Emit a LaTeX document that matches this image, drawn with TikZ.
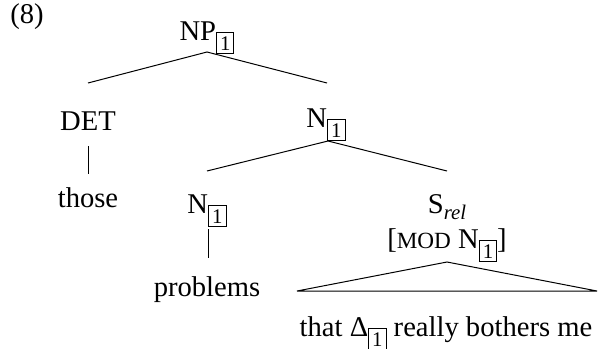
\documentclass[tikz,border=0pt]{standalone}
\usepackage{fontspec}
\setmainfont{Liberation Serif}
\newcommand{\tagone}{\raisebox{-5pt}{\fontsize{10.4}{11}\selectfont\fboxsep=1.5pt\fboxrule=0.5pt\fbox{1}}}
\newcommand{\fakesc}[1]{{\fontsize{11.6}{12}\selectfont #1}}
\begin{document}
\begin{tikzpicture}[x=0.5pt,y=-0.5pt]
	\tikzset{cat/.style={anchor=base, inner sep=0pt, font=\fontsize{14.3}{17}\selectfont},
		branch/.style={black, line width=0.5pt}}
	\useasboundingbox (0,0) rectangle (598,348);
	% labels
	\node[cat, anchor=base west] (ex) at (10,23) {(8)};
	\node[cat] (np) at (207,40) {NP\tagone};
	\node[cat] (det) at (88,130) {DET};
	\node[cat] (those) at (88,207) {those};
	\node[cat] (nbar) at (326,127) {N\tagone};
	\node[cat] (n) at (207,213) {N\tagone};
	\node[cat] (problems) at (207,296) {problems};
	\node[cat] (srel) at (447,213) {S\raisebox{-3pt}{\fontsize{10.4}{11}\selectfont\itshape rel}};
	\node[cat] (mod) at (447,248) {[\fakesc{MOD} N\tagone]};
	\node[cat] (that) at (446,336) {that Δ\tagone{} really bothers me};
	% branch points
	\coordinate (np-b) at (207,52);
	\coordinate (det-t) at (88,83);
	\coordinate (nbar-t) at (327,83);
	\coordinate (det-b) at (88,146);
	\coordinate (those-t) at (88,174);
	\coordinate (nbar-b) at (328,141);
	\coordinate (n-t) at (207,171);
	\coordinate (srel-t) at (447,171);
	\coordinate (n-b) at (208,229);
	\coordinate (problems-t) at (208,258);
	\coordinate (mod-b) at (447,262);
	\coordinate (tri-l) at (297,291);
	\coordinate (tri-r) at (597,291);
	\draw[branch] (det-t) -- (np-b) -- (nbar-t);
	\draw[branch] (det-b) -- (those-t);
	\draw[branch] (n-t) -- (nbar-b) -- (srel-t);
	\draw[branch] (n-b) -- (problems-t);
	\draw[branch] (mod-b) -- (tri-l) -- (tri-r) -- cycle;
\end{tikzpicture}
\end{document}
